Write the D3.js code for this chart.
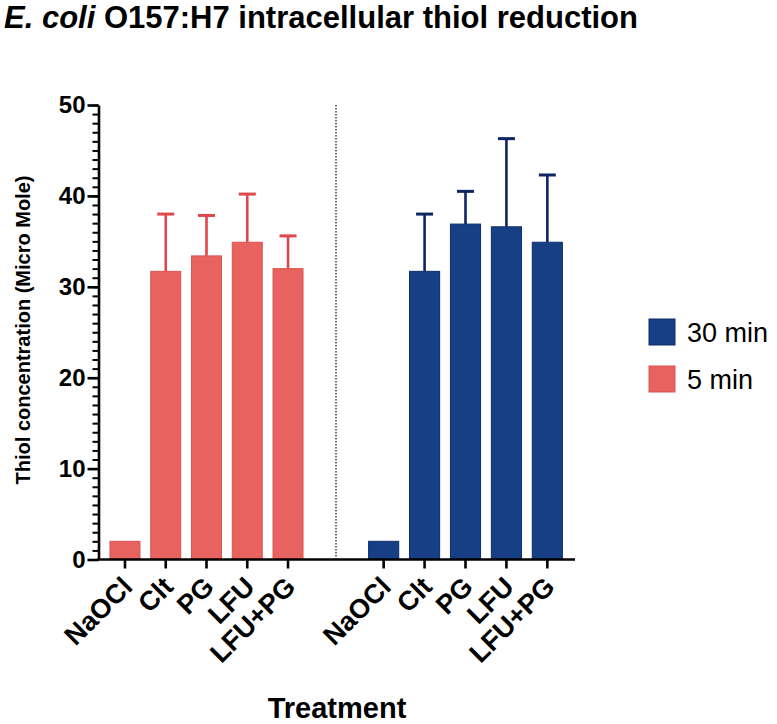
<!DOCTYPE html>
<html>
<head>
<meta charset="utf-8">
<script src="https://cdn.jsdelivr.net/npm/d3@7"></script>
<style>
  html, body { margin: 0; padding: 0; background: #fff; }
  svg { display: block; font-family: "Liberation Sans", Arial, sans-serif; }
</style>
</head>
<body>
<svg id="chart" width="777" height="724"></svg>
<script>
// ---- data ----
const treatments = ["NaOCl", "Clt", "PG", "LFU", "LFU+PG"];
const groups = ["5 min", "30 min"];
const mean5 = [2.0, 31.7, 33.4, 34.9, 32.0];
const err5 = [0, 6.3, 4.45, 5.3, 3.6];
const mean30 = [2.0, 31.7, 36.9, 36.6, 34.9];
const err30 = [0, 6.3, 3.6, 9.7, 7.4];
const yTicks = [0, 10, 20, 30, 40, 50];
const legendOrder = ["30 min", "5 min"];

const colors = {
  "5 min": { fill: "#E8625F", stroke: "#DA5552", err: "#E0474B" },
  "30 min": { fill: "#163F85", stroke: "#0E2D6B", err: "#0D2563" }
};

const svg = d3.select("#chart");

// ---- scales ----
const y = d3.scaleLinear().domain([0, 50]).range([559.5, 105]);
const xGroup = {
  "5 min": d3.scaleBand().domain(treatments).range([104.6, 308.4]).paddingInner(0.264).paddingOuter(0.132),
  "30 min": d3.scaleBand().domain(treatments).range([363.2, 567.8]).paddingInner(0.264).paddingOuter(0.132)
};
const series = {
  "5 min": treatments.map((t, i) => ({ t, v: mean5[i], e: err5[i] })),
  "30 min": treatments.map((t, i) => ({ t, v: mean30[i], e: err30[i] }))
};

// ---- title ----
const title = svg.append("text")
  .attr("x", 4).attr("y", 28)
  .attr("font-size", 31).attr("font-weight", "bold").attr("fill", "#000");
title.append("tspan").attr("font-style", "italic").text("E. coli");
title.append("tspan").text(" O157:H7 intracellular thiol reduction");

// ---- bars + error bars ----
groups.forEach(g => {
  const x = xGroup[g];
  const c = colors[g];
  const gg = svg.append("g");
  const eb = gg.selectAll(".err").data(series[g].filter(d => d.e > 0)).enter().append("g");
  eb.append("line")
    .attr("x1", d => x(d.t) + x.bandwidth() / 2)
    .attr("x2", d => x(d.t) + x.bandwidth() / 2)
    .attr("y1", d => y(d.v))
    .attr("y2", d => y(d.v + d.e))
    .attr("stroke", c.err).attr("stroke-width", 2.6);
  eb.append("line")
    .attr("x1", d => x(d.t) + x.bandwidth() / 2 - 8.5)
    .attr("x2", d => x(d.t) + x.bandwidth() / 2 + 8.5)
    .attr("y1", d => y(d.v + d.e))
    .attr("y2", d => y(d.v + d.e))
    .attr("stroke", c.err).attr("stroke-width", 3);
  gg.selectAll(".bar").data(series[g]).enter().append("rect")
    .attr("x", d => x(d.t))
    .attr("width", x.bandwidth())
    .attr("y", d => y(d.v))
    .attr("height", d => y(0) - y(d.v))
    .attr("fill", c.fill)
    .attr("stroke", c.stroke)
    .attr("stroke-width", 1);
});

// ---- dotted separator ----
svg.append("line")
  .attr("x1", 336).attr("x2", 336)
  .attr("y1", y(50)).attr("y2", y(0))
  .attr("stroke", "#444").attr("stroke-width", 1.5)
  .attr("stroke-dasharray", "1.5,1.5");

// ---- y axis ----
const yMinor = svg.append("g").attr("transform", "translate(98.5,0)")
  .call(d3.axisLeft(y).tickValues(d3.range(0, 51, 1)).tickSize(6).tickFormat(""));
yMinor.select(".domain").remove();
yMinor.selectAll("line").attr("stroke", "#000").attr("stroke-width", 2);

const yAxis = svg.append("g").attr("transform", "translate(98.5,0)")
  .call(d3.axisLeft(y).tickValues(yTicks).tickSize(11).tickSizeOuter(0).tickPadding(2));
yAxis.select(".domain").attr("stroke", "#000").attr("stroke-width", 2.6);
yAxis.selectAll(".tick line").attr("stroke", "#000").attr("stroke-width", 2.6);
yAxis.selectAll(".tick text")
  .attr("font-size", 24).attr("font-weight", "bold").attr("fill", "#000")
  .attr("font-family", "Liberation Sans, Arial, sans-serif");

// ---- x axis ----
svg.append("line")
  .attr("x1", 97.2).attr("x2", 575)
  .attr("y1", y(0)).attr("y2", y(0))
  .attr("stroke", "#000").attr("stroke-width", 2.6);

groups.forEach(g => {
  const ax = svg.append("g").attr("transform", `translate(0,${y(0)})`)
    .call(d3.axisBottom(xGroup[g]).tickSize(9).tickSizeOuter(0));
  ax.select(".domain").remove();
  ax.selectAll(".tick line").attr("stroke", "#000").attr("stroke-width", 2.6);
  ax.selectAll(".tick text")
    .attr("font-size", 27).attr("font-weight", "bold").attr("fill", "#000")
    .attr("font-family", "Liberation Sans, Arial, sans-serif")
    .attr("text-anchor", "end")
    .attr("dy", null)
    .attr("y", 0)
    .attr("transform", "translate(9,29) rotate(-45)");
});

// ---- axis titles ----
svg.append("text")
  .attr("transform", "translate(30,330) rotate(-90)")
  .attr("text-anchor", "middle")
  .attr("font-size", 20).attr("font-weight", "bold").attr("fill", "#000")
  .text("Thiol concentration (Micro Mole)");

svg.append("text")
  .attr("x", 337).attr("y", 718)
  .attr("text-anchor", "middle")
  .attr("font-size", 29).attr("font-weight", "bold").attr("fill", "#000")
  .text("Treatment");

// ---- legend ----
const leg = svg.append("g").attr("transform", "translate(649,319)");
legendOrder.forEach((g, i) => {
  const row = leg.append("g").attr("transform", `translate(0,${i * 47})`);
  row.append("rect").attr("width", 26).attr("height", 26)
    .attr("fill", colors[g].fill).attr("stroke", colors[g].stroke).attr("stroke-width", 1);
  row.append("text").attr("x", 38).attr("y", 13).attr("dy", "0.36em")
    .attr("font-size", 27).attr("fill", "#000").text(g);
});
</script>
</body>
</html>
